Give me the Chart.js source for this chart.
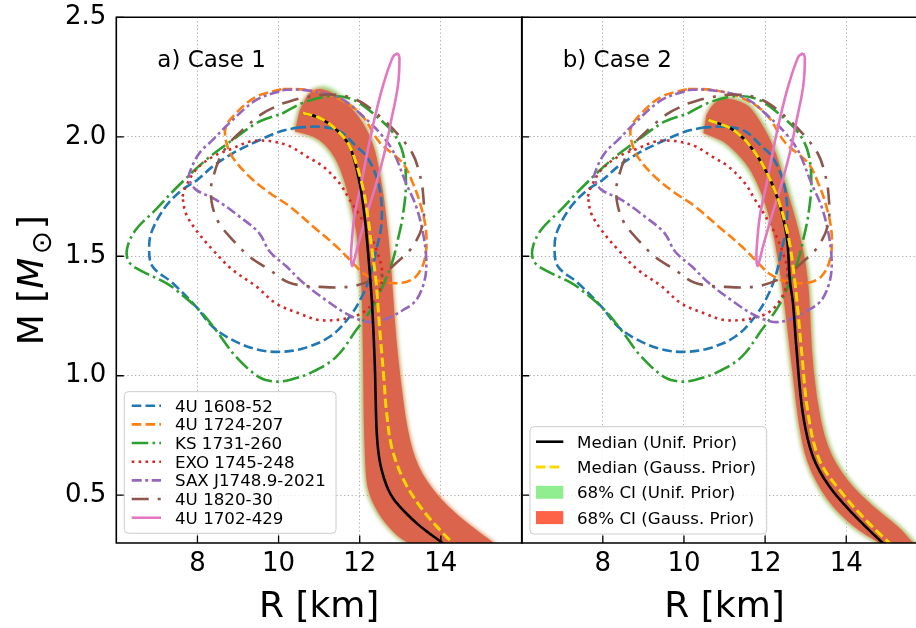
<!DOCTYPE html>
<html>
<head>
<meta charset="utf-8">
<script src="https://cdn.jsdelivr.net/npm/chart.js@4.4.1/dist/chart.umd.min.js"></script>
<style>
  html, body { margin: 0; padding: 0; background: #fff; overflow: hidden; }
  #wrap { position: relative; width: 916px; height: 628px; overflow: hidden; }
  #wrap canvas { position: absolute; top: 0; }
</style>
</head>
<body>
<div id="wrap">
  <canvas id="case1" width="523" height="628" style="left:0;width:523px;height:628px"></canvas>
  <canvas id="case2" width="416" height="628" style="left:500px;width:416px;height:628px"></canvas>
</div>
<script>
// axis ticks
const xTicks = [8, 10, 12, 14];
const yTicks = [0.5, 1.0, 1.5, 2.0, 2.5];

// observed mass-radius contours, [R km, M Msun]
const c1608 = [[10.44,2.038],[11.01,2.042],[11.5,2.024],[11.91,1.961],[12.16,1.92],[12.41,1.834],[12.53,1.737],[12.53,1.625],[12.41,1.528],[12.28,1.43],[12.08,1.34],[11.75,1.247],[11.26,1.163],[10.6,1.114],[10.0,1.10],[9.44,1.111],[8.86,1.15],[8.37,1.206],[7.96,1.29],[7.38,1.389],[6.89,1.458],[6.81,1.542],[6.89,1.611],[7.22,1.709],[7.63,1.779],[8.0,1.82],[8.37,1.875],[8.86,1.93],[9.44,1.979],[10.0,2.02],[10.44,2.038]];
const c1724 = [[10.1,2.2],[10.69,2.196],[11.35,2.168],[12.0,2.10],[12.5,1.975],[13.06,1.89],[13.31,1.806],[13.51,1.709],[13.64,1.597],[13.6,1.486],[13.39,1.416],[13.06,1.389],[12.49,1.396],[12.08,1.43],[11.83,1.472],[11.42,1.542],[10.85,1.625],[10.27,1.709],[9.78,1.765],[9.3,1.83],[8.86,1.916],[8.70,1.986],[8.70,2.042],[8.94,2.097],[9.44,2.167],[10.1,2.2]];
const c1731 = [[10.09,2.097],[10.6,2.142],[11.26,2.17],[11.83,2.156],[12.41,2.086],[12.82,2.017],[13.06,1.935],[13.14,1.806],[13.06,1.667],[12.94,1.57],[12.82,1.486],[12.6,1.388],[12.32,1.288],[11.91,1.19],[11.42,1.079],[10.85,1.017],[10.27,0.982],[9.9,0.976],[9.52,0.994],[8.94,1.081],[8.45,1.192],[8.04,1.276],[7.47,1.359],[7.22,1.389],[6.48,1.451],[6.28,1.486],[6.28,1.542],[6.48,1.611],[6.97,1.695],[7.5,1.79],[8.21,1.903],[8.86,1.986],[9.52,2.063],[10.09,2.097]];
const c1745 = [[7.63,1.75],[7.71,1.79],[7.96,1.861],[8.37,1.916],[8.86,1.951],[9.3,1.98],[9.78,1.982],[10.27,1.961],[10.68,1.919],[11.09,1.876],[11.5,1.806],[11.75,1.737],[12.0,1.67],[12.24,1.597],[12.41,1.528],[12.55,1.44],[12.49,1.358],[12.16,1.274],[11.67,1.24],[11.01,1.233],[10.52,1.26],[9.94,1.302],[9.44,1.375],[8.86,1.444],[8.37,1.528],[7.96,1.611],[7.71,1.681],[7.63,1.75]];
const c1748 = [[10.09,2.195],[10.44,2.198],[11.09,2.184],[11.58,2.156],[12.08,2.086],[12.49,2.017],[12.82,1.94],[13.14,1.806],[13.39,1.709],[13.56,1.597],[13.64,1.486],[13.6,1.40],[13.39,1.316],[13.06,1.274],[12.57,1.233],[12.16,1.226],[11.67,1.26],[11.17,1.316],[10.6,1.39],[10.19,1.458],[9.78,1.52],[9.52,1.597],[9.03,1.667],[8.45,1.737],[7.96,1.779],[7.8,1.82],[7.8,1.847],[8.04,1.93],[8.37,1.986],[8.78,2.056],[9.44,2.153],[10.09,2.195]];
const c1820 = [[10.09,2.139],[10.6,2.163],[11.26,2.177],[11.91,2.156],[12.49,2.086],[12.98,2.003],[13.3,1.93],[13.45,1.862],[13.56,1.765],[13.56,1.639],[13.31,1.542],[12.9,1.472],[12.49,1.416],[11.83,1.375],[11.01,1.372],[10.27,1.389],[9.77,1.444],[9.27,1.50],[8.86,1.57],[8.53,1.639],[8.37,1.709],[8.33,1.779],[8.37,1.819],[8.53,1.903],[8.78,1.972],[9.11,2.028],[9.6,2.097],[10.09,2.139]];
const c1702 = [[12.94,2.35],[12.98,2.33],[12.94,2.212],[12.78,2.072],[12.61,1.933],[12.41,1.806],[12.16,1.667],[11.95,1.542],[11.82,1.46],[11.79,1.48],[11.79,1.528],[11.87,1.667],[12.04,1.806],[12.2,1.946],[12.36,2.072],[12.57,2.212],[12.82,2.335],[12.94,2.35]];

// Case 1: medians and 68% bands
const med1Unif = [[10.6,2.10],[11.01,2.079],[11.42,2.03],[11.75,1.961],[12.0,1.806],[12.12,1.667],[12.2,1.528],[12.28,1.36],[12.32,1.25],[12.36,1.1],[12.38,1.0],[12.4,0.85],[12.42,0.76],[12.46,0.68],[12.52,0.62],[12.6,0.57],[12.7,0.525],[12.83,0.485],[13.0,0.45],[13.2,0.415],[13.42,0.38],[13.68,0.345],[14.0,0.305],[14.1,0.29]];
const med1Gauss = [[10.6,2.10],[11.01,2.079],[11.42,2.03],[11.75,1.961],[12.05,1.806],[12.2,1.667],[12.3,1.528],[12.4,1.40],[12.49,1.2],[12.6,0.98],[12.66,0.85],[12.79,0.70],[13.08,0.565],[13.5,0.45],[14.0,0.35],[14.3,0.30],[14.4,0.29]];
const ci1UnifLo = [[10.35,2.03],[10.69,2.005],[11.0,1.98],[11.22,1.94],[11.46,1.876],[11.71,1.737],[11.88,1.598],[11.96,1.458],[12.0,1.36],[12.02,1.2],[12.03,1.0],[12.05,0.8],[12.08,0.65],[12.12,0.56],[12.19,0.5],[12.32,0.45],[12.5,0.4],[12.86,0.33],[13.2,0.29],[13.4,0.27]];
const ci1UnifHi = [[10.5,2.12],[10.75,2.19],[11.06,2.215],[11.3,2.205],[11.55,2.175],[12.03,2.09],[12.37,1.98],[12.53,1.85],[12.65,1.709],[12.76,1.514],[12.84,1.32],[12.92,1.15],[13.02,0.98],[13.18,0.77],[13.42,0.62],[13.88,0.5],[14.42,0.41],[14.93,0.345],[15.3,0.30],[15.45,0.28]];
const ci1GaussLo = [[10.4,2.022],[10.69,2.012],[11.0,1.99],[11.27,1.945],[11.51,1.876],[11.76,1.737],[11.93,1.598],[12.0,1.458],[12.05,1.36],[12.07,1.2],[12.09,1.0],[12.1,0.8],[12.13,0.65],[12.16,0.56],[12.24,0.5],[12.38,0.45],[12.55,0.4],[12.91,0.33],[13.2,0.30],[13.4,0.28]];
const ci1GaussHi = [[10.52,2.11],[10.72,2.18],[10.94,2.203],[11.2,2.195],[11.51,2.168],[12.0,2.085],[12.34,1.974],[12.5,1.848],[12.63,1.709],[12.75,1.514],[12.83,1.32],[12.9,1.15],[13.01,0.982],[13.17,0.772],[13.42,0.619],[13.9,0.5],[14.45,0.41],[14.95,0.345],[15.3,0.30],[15.45,0.28]];

// Case 2: medians and 68% bands
const med2Unif = [[10.6,2.071],[11.21,2.029],[11.7,1.946],[12.2,1.792],[12.52,1.598],[12.61,1.40],[12.69,1.3],[12.77,1.121],[12.93,0.842],[13.18,0.661],[13.59,0.535],[14.16,0.423],[14.9,0.30],[15.0,0.29]];
const med2Gauss = [[10.6,2.071],[11.21,2.029],[11.7,1.946],[12.2,1.792],[12.55,1.598],[12.73,1.40],[12.89,1.121],[13.06,0.842],[13.34,0.647],[13.84,0.521],[14.49,0.395],[15.07,0.30],[15.17,0.29]];
const ci2UnifLo = [[10.43,2.02],[10.8,1.985],[11.05,1.962],[11.52,1.875],[11.78,1.8],[12.0,1.7],[12.17,1.6],[12.27,1.5],[12.36,1.4],[12.46,1.27],[12.56,1.121],[12.68,0.95],[12.78,0.8],[12.98,0.633],[13.45,0.475],[14.1,0.365],[14.75,0.30],[14.95,0.28]];
const ci2UnifHi = [[10.55,2.1],[10.72,2.15],[10.95,2.17],[11.21,2.168],[11.52,2.15],[11.75,2.12],[12.25,1.98],[12.58,1.8],[12.9,1.6],[13.07,1.46],[13.15,1.32],[13.19,1.121],[13.31,0.912],[13.57,0.703],[14.07,0.563],[14.73,0.451],[15.38,0.367],[15.72,0.30],[15.9,0.28]];
const ci2GaussLo = [[10.48,2.015],[10.8,1.995],[11.05,1.974],[11.54,1.89],[11.8,1.81],[12.03,1.709],[12.2,1.6],[12.3,1.5],[12.4,1.4],[12.5,1.27],[12.6,1.121],[12.72,0.95],[12.82,0.8],[13.02,0.633],[13.51,0.479],[14.16,0.367],[14.82,0.30],[15.0,0.28]];
const ci2GaussHi = [[10.55,2.09],[10.72,2.14],[10.95,2.16],[11.21,2.158],[11.5,2.14],[11.7,2.113],[12.2,1.974],[12.52,1.792],[12.85,1.598],[13.02,1.458],[13.1,1.319],[13.14,1.121],[13.26,0.912],[13.51,0.703],[14.0,0.563],[14.66,0.451],[15.31,0.367],[15.64,0.30],[15.8,0.28]];

Chart.defaults.font.family = 'DejaVu Sans';
Chart.defaults.color = '#000';

const toXY = pts => pts.map(p => ({x: p[0], y: p[1]}));

function lineSet(label, pts, color, width, dash) {
  return {label: label, data: toXY(pts), showLine: true, borderColor: color, borderWidth: width,
    borderDash: dash, pointRadius: 0, pointHoverRadius: 0, fill: false, tension: 0.35, clip: 0};
}

// band outline: lower edge top->bottom, then upper edge back up
function bandSet(label, lo, hi, legendColor, core, edge, blur) {
  return {label: label, data: toXY(lo.concat(hi.slice().reverse())), showLine: false,
    pointRadius: 0, pointHoverRadius: 0, band: true, legendColor: legendColor,
    coreColor: core, edgeColor: edge, blur: blur};
}

function contourSets() {
  return [
    lineSet('4U 1702-429', c1702, '#e377c2', 2.6, []),
    lineSet('4U 1820-30', c1820, '#8c564b', 2.6, [17, 9, 3, 9]),
    lineSet('SAX J1748.9-2021', c1748, '#9467bd', 2.6, [10, 3.5, 3, 3.5]),
    lineSet('EXO 1745-248', c1745, '#d62728', 2.6, [2.6, 4.3]),
    lineSet('KS 1731-260', c1731, '#2ca02c', 2.6, [16.6, 4.2, 2.6, 4.2]),
    lineSet('4U 1724-207', c1724, '#ff7f0e', 2.6, [9.6, 4.2]),
    lineSet('4U 1608-52', c1608, '#1f77b4', 2.6, [9.6, 4.2])
  ];
}

function tracePath(ctx, pts) {
  ctx.beginPath();
  ctx.moveTo(pts[0].x, pts[0].y);
  for (let k = 1; k < pts.length - 1; k++) {
    const mx = (pts[k].x + pts[k + 1].x) / 2, my = (pts[k].y + pts[k + 1].y) / 2;
    ctx.quadraticCurveTo(pts[k].x, pts[k].y, mx, my);
  }
  ctx.lineTo(pts[pts.length - 1].x, pts[pts.length - 1].y);
  ctx.closePath();
}

function drawLegend(chart, lg) {
  const {ctx, chartArea: a} = chart;
  const x0 = a.left + lg.offsetX, y0 = a.bottom - lg.offsetY - lg.height;
  ctx.save();
  ctx.beginPath();
  ctx.roundRect(x0, y0, lg.width, lg.height, 4);
  ctx.fillStyle = 'rgba(255,255,255,0.8)';
  ctx.fill();
  ctx.strokeStyle = '#cccccc';
  ctx.lineWidth = 1;
  ctx.stroke();
  ctx.font = '16.7px "DejaVu Sans"';
  ctx.textBaseline = 'alphabetic';
  lg.items.forEach((label, k) => {
    const ds = chart.data.datasets.find(d => d.label === label);
    const cy = y0 + lg.firstRow + k * lg.rowGap;
    if (ds.band) {
      ctx.fillStyle = ds.legendColor;
      ctx.fillRect(x0 + lg.handleX, cy - 6.5, lg.handleLen, 13);
    } else {
      ctx.setLineDash(ds.borderDash || []);
      ctx.strokeStyle = ds.borderColor;
      ctx.lineWidth = ds.borderWidth;
      ctx.beginPath();
      ctx.moveTo(x0 + lg.handleX, cy);
      ctx.lineTo(x0 + lg.handleX + lg.handleLen, cy);
      ctx.stroke();
      ctx.setLineDash([]);
    }
    ctx.fillStyle = '#000';
    ctx.fillText(label, x0 + lg.textX, cy + 6.1);
  });
  ctx.restore();
}

function drawYTitle(ctx, x, yc) {
  const parts = [
    {t: 'M [', f: '36px "DejaVu Sans"', dy: 0, gap: 0},
    {t: 'M', f: 'italic 36px "DejaVu Sans"', dy: 0, gap: 3},
    {t: '\u2299', f: '28px "DejaVu Sans"', dy: 8, gap: 2},
    {t: ']', f: '36px "DejaVu Sans"', dy: 0, gap: 0}
  ];
  ctx.save();
  let total = 0;
  parts.forEach(p => { ctx.font = p.f; p.w = ctx.measureText(p.t).width + p.gap; total += p.w; });
  ctx.translate(x, yc);
  ctx.rotate(-Math.PI / 2);
  ctx.fillStyle = '#000';
  ctx.textBaseline = 'alphabetic';
  let cx = -total / 2;
  parts.forEach(p => { ctx.font = p.f; ctx.fillText(p.t, cx, p.dy); cx += p.w; });
  ctx.restore();
}

const decor = {
  id: 'decor',
  beforeDatasetsDraw(chart) {
    const {ctx, chartArea: a} = chart;
    ctx.save();
    ctx.beginPath();
    ctx.rect(a.left, a.top, a.right - a.left, a.bottom - a.top);
    ctx.clip();
    chart.data.datasets.forEach((ds, i) => {
      if (!ds.band) return;
      const pts = chart.getDatasetMeta(i).data;
      ctx.filter = 'blur(' + ds.blur + 'px)';
      ctx.fillStyle = ds.edgeColor;
      tracePath(ctx, pts);
      ctx.fill();
      if (ds.coreColor) {
        ctx.filter = 'blur(0.6px)';
        ctx.fillStyle = ds.coreColor;
        tracePath(ctx, pts);
        ctx.fill();
      }
      ctx.filter = 'none';
    });
    ctx.restore();
  },
  afterDraw(chart, args, opts) {
    const {ctx, chartArea: a, scales} = chart;
    ctx.save();
    // inward ticks
    ctx.strokeStyle = '#000';
    ctx.lineWidth = 1.3;
    ctx.beginPath();
    xTicks.forEach(v => {
      const px = scales.x.getPixelForValue(v);
      ctx.moveTo(px, a.bottom); ctx.lineTo(px, a.bottom - 7.5);
    });
    yTicks.forEach(v => {
      const py = scales.y.getPixelForValue(v);
      ctx.moveTo(a.left, py); ctx.lineTo(a.left + 7.5, py);
    });
    ctx.stroke();
    // frame
    ctx.lineWidth = 1.6;
    ctx.beginPath();
    if (opts.rightSpine) {
      ctx.rect(a.left, a.top, a.right - a.left, a.bottom - a.top);
    } else {
      ctx.moveTo(a.right + 2, a.top); ctx.lineTo(a.left, a.top);
      ctx.lineTo(a.left, a.bottom); ctx.lineTo(a.right + 2, a.bottom);
    }
    ctx.stroke();
    // panel tag
    ctx.fillStyle = '#000';
    ctx.font = '23px "DejaVu Sans"';
    ctx.textAlign = 'left';
    ctx.textBaseline = 'alphabetic';
    ctx.fillText(opts.tag, a.left + 41, 66.7);
    // x title centred on the full 6-16 km axis
    ctx.font = '36px "DejaVu Sans"';
    ctx.textAlign = 'center';
    ctx.fillText('R [km]', scales.x.getPixelForValue(11), 617);
    ctx.restore();
    if (opts.yTitle) drawYTitle(ctx, 43, (a.top + a.bottom) / 2);
    drawLegend(chart, opts.legend);
  }
};

function noPad(ax) {
  ax.paddingTop = 0; ax.paddingBottom = 0; ax.paddingLeft = 0; ax.paddingRight = 0;
}

function scaleOpts(showY, xMax) {
  const grid = {color: '#b0b0b0', lineWidth: 1, drawTicks: false};
  const border = {display: false, dash: [1.3, 2.5]};
  return {
    x: {
      type: 'linear', min: 6, max: xMax, grid: grid, border: border,
      afterBuildTicks: ax => { ax.ticks = xTicks.map(v => ({value: v})); },
      afterFit: ax => { ax.height = 85; noPad(ax); },
      ticks: {font: {size: 26}, padding: 6, maxRotation: 0, autoSkip: false, callback: v => String(v)}
    },
    y: {
      type: 'linear', min: 0.3, max: 2.5, grid: grid, border: border,
      afterBuildTicks: ax => { ax.ticks = yTicks.map(v => ({value: v})); },
      afterFit: ax => { ax.width = showY ? 116.3 : 21.7; noPad(ax); },
      ticks: {display: showY, font: {size: 26}, padding: 10, autoSkip: false, callback: v => v.toFixed(1)}
    }
  };
}

const legend1 = {
  items: ['4U 1608-52', '4U 1724-207', 'KS 1731-260', 'EXO 1745-248', 'SAX J1748.9-2021', '4U 1820-30', '4U 1702-429'],
  offsetX: 8, offsetY: 9.7, width: 211.7, height: 141.6, firstRow: 14, rowGap: 18.67,
  handleX: 7.4, handleLen: 29.3, textX: 50.7
};
const legend2 = {
  items: ['Median (Unif. Prior)', 'Median (Gauss. Prior)', '68% CI (Unif. Prior)', '68% CI (Gauss. Prior)'],
  offsetX: 8.3, offsetY: 9, width: 236.7, height: 107.3, firstRow: 15, rowGap: 25.3,
  handleX: 6, handleLen: 27.3, textX: 47
};

new Chart(document.getElementById('case1'), {
  type: 'scatter',
  data: {datasets: [
    lineSet('Median (Gauss. Prior)', med1Gauss, '#FFD700', 3, [9.5, 4.2]),
    lineSet('Median (Unif. Prior)', med1Unif, '#000000', 2.6, []),
    ...contourSets(),
    bandSet('68% CI (Unif. Prior)', ci1UnifLo, ci1UnifHi, '#90EE90', null, '#90EE90', 2),
    bandSet('68% CI (Gauss. Prior)', ci1GaussLo, ci1GaussHi, '#FF6347', 'rgb(219,100,76)', 'rgba(255,99,71,0.9)', 2.5)
  ]},
  options: {
    responsive: false, animation: false, events: [],
    layout: {padding: {top: 17.3, right: 1, left: 0, bottom: 0}},
    scales: scaleOpts(true, 16),
    plugins: {legend: {display: false}, tooltip: {enabled: false},
      decor: {tag: 'a) Case 1', yTitle: true, rightSpine: true, legend: legend1}}
  },
  plugins: [decor]
});

new Chart(document.getElementById('case2'), {
  type: 'scatter',
  data: {datasets: [
    lineSet('Median (Gauss. Prior)', med2Gauss, '#FFD700', 3, [9.5, 4.2]),
    lineSet('Median (Unif. Prior)', med2Unif, '#000000', 2.6, []),
    ...contourSets(),
    bandSet('68% CI (Unif. Prior)', ci2UnifLo, ci2UnifHi, '#90EE90', null, '#90EE90', 2),
    bandSet('68% CI (Gauss. Prior)', ci2GaussLo, ci2GaussHi, '#FF6347', 'rgb(219,100,76)', 'rgba(255,99,71,0.9)', 2.5)
  ]},
  options: {
    responsive: false, animation: false, events: [],
    layout: {padding: {top: 17.3, right: 0, left: 0, bottom: 0}},
    scales: scaleOpts(false, 15.72),
    plugins: {legend: {display: false}, tooltip: {enabled: false},
      decor: {tag: 'b) Case 2', yTitle: false, rightSpine: false, legend: legend2}}
  },
  plugins: [decor]
});
</script>
</body>
</html>
